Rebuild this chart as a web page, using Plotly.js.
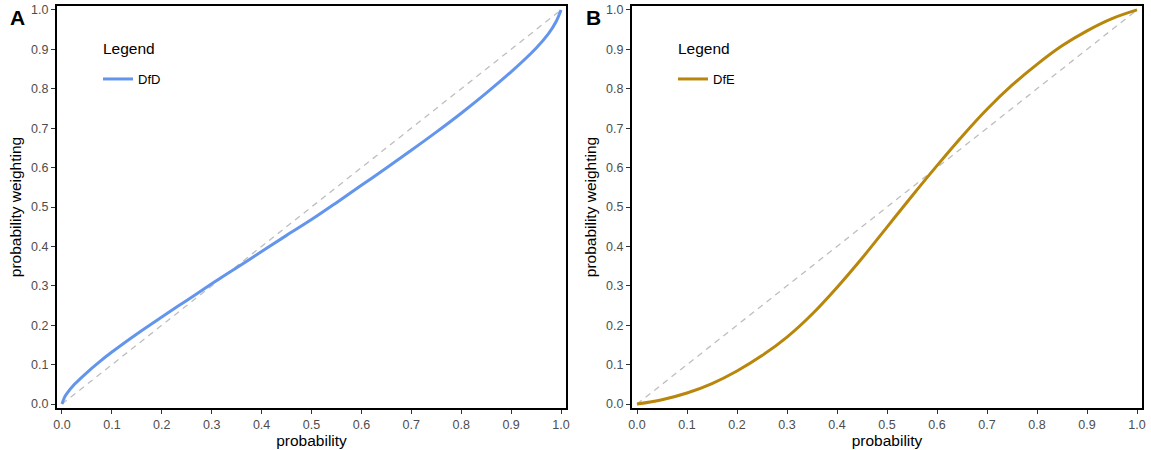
<!DOCTYPE html>
<html>
<head>
<meta charset="utf-8">
<script src="https://cdn.plot.ly/plotly-3.0.1.min.js"></script>
<style>
  html, body { margin: 0; padding: 0; background: #fff; }
  #chart { width: 1151px; height: 450px; }
</style>
</head>
<body>
<div id="chart"></div>
<script>
// Probability weighting functions: decisions from description (DfD)
// and decisions from experience (DfE), each against the identity line.
const dfdProb = [0, 0.005, 0.01, 0.025, 0.05, 0.075, 0.1, 0.15, 0.2, 0.25, 0.3, 0.35, 0.4, 0.45, 0.5,
                 0.55, 0.6, 0.65, 0.7, 0.75, 0.8, 0.85, 0.9, 0.95, 0.975, 0.99, 1];
const dfdWeight = [0, 0.017, 0.027, 0.05, 0.08, 0.107, 0.132, 0.178, 0.221, 0.263, 0.305, 0.346, 0.387, 0.428, 0.468,
                   0.511, 0.555, 0.599, 0.644, 0.69, 0.738, 0.789, 0.843, 0.903, 0.94, 0.97, 1];

const dfeProb = [0, 0.05, 0.1, 0.15, 0.2, 0.25, 0.3, 0.35, 0.4, 0.45, 0.5,
                 0.55, 0.6, 0.65, 0.7, 0.75, 0.8, 0.85, 0.9, 0.95, 1];
const dfeWeight = [0, 0.011, 0.028, 0.052, 0.084, 0.123, 0.17, 0.228, 0.296, 0.37, 0.449,
                   0.528, 0.605, 0.679, 0.748, 0.809, 0.862, 0.909, 0.947, 0.978, 1];

const identity = [0, 1];

const tickVals = [0, 0.1, 0.2, 0.3, 0.4, 0.5, 0.6, 0.7, 0.8, 0.9, 1.0];
const tickText = ['0.0', '0.1', '0.2', '0.3', '0.4', '0.5', '0.6', '0.7', '0.8', '0.9', '1.0'];

const panelLabels = ['A', 'B'];
const seriesNames = ['DfD', 'DfE'];
const xTitle = 'probability';
const yTitle = 'probability weighting';
const legendTitle = 'Legend';

const FONT = 'Liberation Sans, Arial, Helvetica, sans-serif';
const W = 1151, H = 450;

const traces = [
  { x: identity, y: identity, xaxis: 'x', yaxis: 'y', mode: 'lines', showlegend: false, hoverinfo: 'skip',
    line: { color: '#bebebe', width: 1.3, dash: '6px,5px' } },
  { x: dfdProb, y: dfdWeight, xaxis: 'x', yaxis: 'y', mode: 'lines', name: seriesNames[0], legend: 'legend',
    line: { color: '#6495ED', width: 3, shape: 'spline', smoothing: 1 } },
  { x: identity, y: identity, xaxis: 'x2', yaxis: 'y2', mode: 'lines', showlegend: false, hoverinfo: 'skip',
    line: { color: '#bebebe', width: 1.3, dash: '6px,5px' } },
  { x: dfeProb, y: dfeWeight, xaxis: 'x2', yaxis: 'y2', mode: 'lines', name: seriesNames[1], legend: 'legend2',
    line: { color: '#B8860B', width: 3, shape: 'spline', smoothing: 1 } }
];

function xAxis(domain, anchor) {
  return {
    domain: domain, anchor: anchor, range: [-0.01, 1.01],
    showgrid: false, zeroline: false,
    showline: true, mirror: true, linecolor: '#000', linewidth: 2,
    ticks: 'outside', ticklen: 4, tickwidth: 1, tickcolor: '#333',
    tickvals: tickVals, ticktext: tickText,
    tickfont: { family: FONT, size: 12.5, color: '#4d4d4d' },
    title: { text: xTitle, font: { family: FONT, size: 15.5, color: '#000' }, standoff: 3 }
  };
}
function yAxis(domain, anchor) {
  return {
    domain: domain, anchor: anchor, range: [-0.01, 1.01],
    showgrid: false, zeroline: false,
    showline: true, mirror: true, linecolor: '#000', linewidth: 2,
    ticks: 'outside', ticklen: 4, tickwidth: 1, tickcolor: '#333',
    tickvals: tickVals, ticktext: tickText,
    tickfont: { family: FONT, size: 12.5, color: '#4d4d4d' },
    title: { text: yTitle, font: { family: FONT, size: 15.5, color: '#000' }, standoff: 6 }
  };
}
function legendAt(xpx) {
  return {
    x: xpx / W, xanchor: 'left', y: 1 - 79 / H, yanchor: 'middle',
    bgcolor: 'rgba(0,0,0,0)', borderwidth: 0,
    font: { family: FONT, size: 13, color: '#000' },
    itemwidth: 30, tracegroupgap: 0
  };
}
function legendHeading(xpx) {
  return { text: legendTitle, xref: 'paper', yref: 'paper', x: xpx / W, y: 1 - 48 / H,
           xanchor: 'left', yanchor: 'middle', showarrow: false,
           font: { family: FONT, size: 15.5, color: '#000' } };
}

const yDom = [1 - 408 / H, 1 - 6 / H];

const layout = {
  width: W, height: H,
  margin: { l: 0, r: 0, t: 0, b: 0 },
  paper_bgcolor: '#fff', plot_bgcolor: '#fff',
  font: { family: FONT },
  xaxis: xAxis([57 / W, 566 / W], 'y'),
  yaxis: yAxis(yDom, 'x'),
  xaxis2: xAxis([632 / W, 1142 / W], 'y2'),
  yaxis2: yAxis(yDom, 'x2'),
  legend: legendAt(98),
  legend2: legendAt(673),
  annotations: [
    { text: '<b>' + panelLabels[0] + '</b>', xref: 'paper', yref: 'paper', x: 8 / W, y: 1 - 4 / H,
      xanchor: 'left', yanchor: 'top', showarrow: false, font: { family: FONT, size: 21, color: '#000' } },
    { text: '<b>' + panelLabels[1] + '</b>', xref: 'paper', yref: 'paper', x: 584 / W, y: 1 - 4 / H,
      xanchor: 'left', yanchor: 'top', showarrow: false, font: { family: FONT, size: 21, color: '#000' } },
    legendHeading(101),
    legendHeading(676)
  ],
  showlegend: true
};

Plotly.newPlot('chart', traces, layout, { displayModeBar: false, staticPlot: true });
</script>
</body>
</html>
